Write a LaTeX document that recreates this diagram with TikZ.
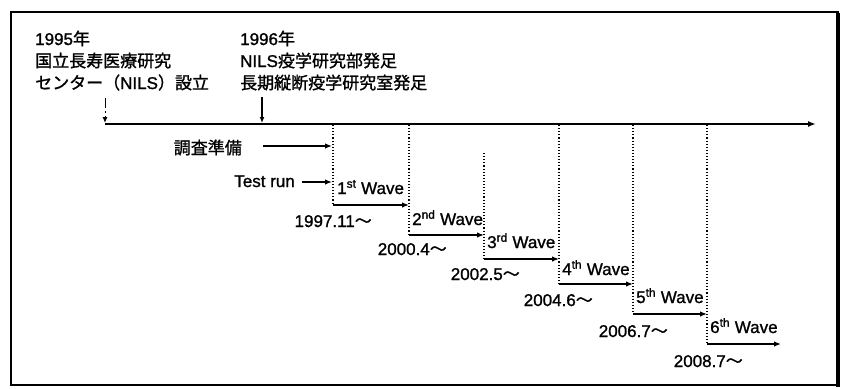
\documentclass[tikz,border=0pt]{standalone}
\usepackage{fontspec}
\setmainfont{Liberation Sans}[FakeBold=1.2]
\newfontfamily\cjk{Noto Sans CJK JP}[FakeBold=1.2]
\usetikzlibrary{arrows.meta}
\begin{document}
\begin{tikzpicture}[x=1pt,y=-1pt,
  txt/.style={anchor=base west, inner sep=0pt, font=\fontsize{17}{20}\selectfont},
  txr/.style={anchor=base east, inner sep=0pt, font=\fontsize{17}{20}\selectfont},
  arr/.style={line width=1.3pt, -{Latex[length=7pt,width=5.5pt]}},
  dotln/.style={line width=1.1pt, dotted},
]
\useasboundingbox (0,0) rectangle (848,388);
\fill[white] (0,0) rectangle (848,388);
% frame
\draw[line width=1.3pt] (11,12) rectangle (838,385);
\draw[line width=3.5pt] (838,13) -- (838,386.5);
\draw[line width=1.8pt] (11,385) -- (838,385);

% top texts
\node[txt] (a1) at (35,45) {1995{\cjk 年}};
\node[txt] (a2) at (35,67) {\cjk 国立長寿医療研究};
\node[txt] (a3) at (35,89) {{\cjk センター（}NILS{\cjk ）設立}};
\node[txt] (b1) at (240,45) {1996{\cjk 年}};
\node[txt] (b2) at (240,67) {NILS{\cjk 疫学研究部発足}};
\node[txt] (b3) at (240,89) {\cjk 長期縦断疫学研究室発足};

% main axis
\coordinate (axS) at (105,124);
\coordinate (axE) at (816,124);
\draw[line width=1.6pt, -{Latex[length=8pt,width=6pt]}] (axS) -- (axE);

\coordinate (a95s) at (105,98);
\coordinate (a95e) at (105,123);
\draw[line width=1pt, dash pattern=on 10pt off 3pt on 2pt off 3pt, -{Latex[length=6pt,width=5pt]}] (a95s) -- (a95e);
\coordinate (a96s) at (262,97);
\coordinate (a96e) at (262,123);
\draw[line width=1.3pt, -{Latex[length=6pt,width=5pt]}] (a96s) -- (a96e);

% dotted verticals and wave arrows
\coordinate (d1) at (333,125); \coordinate (w1s) at (333,205); \coordinate (w1e) at (409,205);
\coordinate (d2) at (409,125); \coordinate (w2s) at (409,235); \coordinate (w2e) at (484,235);
\coordinate (d3) at (484,153); \coordinate (w3s) at (484,259); \coordinate (w3e) at (559,259);
\coordinate (d4) at (559,125); \coordinate (w4s) at (559,284); \coordinate (w4e) at (633,284);
\coordinate (d5) at (633,125); \coordinate (w5s) at (633,314); \coordinate (w5e) at (707,314);
\coordinate (d6) at (707,125); \coordinate (w6s) at (707,344); \coordinate (w6e) at (781,344);

\foreach \i in {1,...,6}{
  \draw[dotln] (d\i) -- (w\i s);
  \draw[arr] (w\i s) -- (w\i e);
}

% preparation arrows
\node[txr] (prep) at (242,154) {\cjk 調査準備};
\coordinate (prepS) at (263,146); \coordinate (prepE) at (332,146);
\draw[arr] (prepS) -- (prepE);
\node[txr] (test) at (295,187) {Test run};
\coordinate (testS) at (302,182); \coordinate (testE) at (332,182);
\draw[arr] (testS) -- (testE);

% wave labels
\node[txt] (l1) at (337,194) {1\textsuperscript{st} Wave};
\node[txt] (l2) at (412,225) {2\textsuperscript{nd} Wave};
\node[txt] (l3) at (487,248) {3\textsuperscript{rd} Wave};
\node[txt] (l4) at (562,275) {4\textsuperscript{th} Wave};
\node[txt] (l5) at (636,303) {5\textsuperscript{th} Wave};
\node[txt] (l6) at (710,333) {6\textsuperscript{th} Wave};

% dates
\node[txr] (t1) at (372,227) {1997.11{\cjk ～}};
\node[txr] (t2) at (447,255) {2000.4{\cjk ～}};
\node[txr] (t3) at (520,280) {2002.5{\cjk ～}};
\node[txr] (t4) at (593,306) {2004.6{\cjk ～}};
\node[txr] (t5) at (668,337) {2006.7{\cjk ～}};
\node[txr] (t6) at (743,367) {2008.7{\cjk ～}};
\end{tikzpicture}
\end{document}
